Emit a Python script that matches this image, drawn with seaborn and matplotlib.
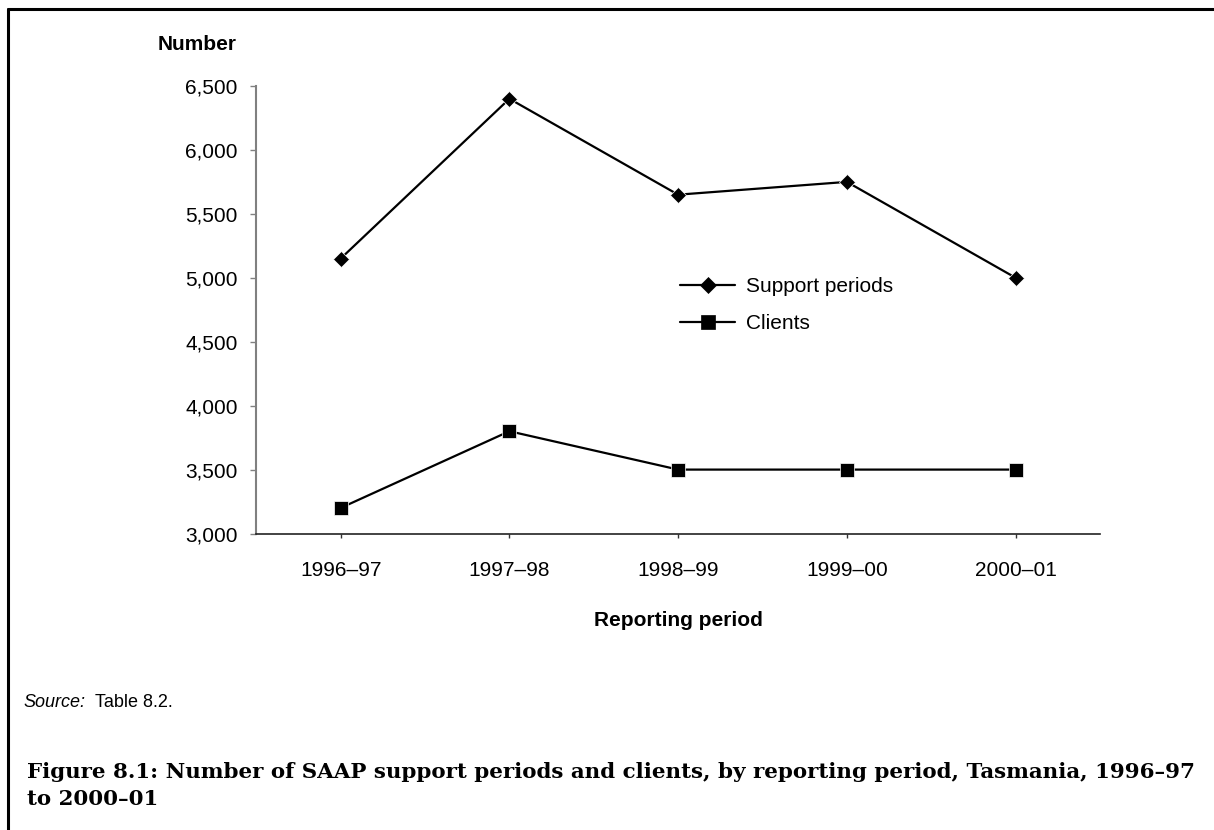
import pandas as pd
import matplotlib
matplotlib.use("Agg")
import matplotlib.pyplot as plt
from matplotlib.lines import Line2D
from matplotlib.ticker import FuncFormatter
import seaborn as sns

# Values
periods = ["1996–97", "1997–98", "1998–99", "1999–00", "2000–01"]
support_periods = [5150, 6400, 5650, 5750, 5000]
clients = [3200, 3800, 3500, 3500, 3500]

df = pd.DataFrame({
    "period": periods * 2,
    "value": support_periods + clients,
    "series": ["Support periods"] * len(periods) + ["Clients"] * len(periods),
})

sns.set_theme(style="white")
plt.rcParams["font.family"] = ["Liberation Sans", "DejaVu Sans"]
plt.rcParams["text.color"] = "black"
plt.rcParams["axes.labelcolor"] = "black"

fig = plt.figure(figsize=(12.14, 8.3), dpi=100)
ax = fig.add_axes([0.2111, 0.3572, 0.9061 - 0.2111, 0.8964 - 0.3572])

marker_sizes = {"Support periods": 8.6, "Clients": 10.0}

sns.lineplot(
    data=df, x="period", y="value", hue="series", style="series",
    palette={"Support periods": "black", "Clients": "black"},
    markers={"Support periods": "D", "Clients": "s"},
    dashes=False, sort=False, lw=1.6, ax=ax, legend=False,
)
for line, ms in zip(ax.lines, marker_sizes.values()):
    line.set_markersize(ms)
    line.set_markeredgewidth(0.5)

ax.set_xlim(-0.5, 4.5)
ax.set_ylim(3000, 6500)
ax.set_yticks(range(3000, 6501, 500))
ax.yaxis.set_major_formatter(FuncFormatter(lambda v, p: f"{int(v):,}"))

for s in ["top", "right"]:
    ax.spines[s].set_visible(False)
ax.spines["left"].set_color("#808080")
ax.spines["left"].set_linewidth(1.5)
ax.spines["bottom"].set_color("#222222")
ax.spines["bottom"].set_linewidth(1.2)

ax.tick_params(axis="y", direction="out", length=4.5, width=1, color="#808080",
               labelsize=15, pad=9, labelcolor="black", left=True)
ax.tick_params(axis="x", direction="out", length=3, width=1, color="#333333",
               labelsize=15, pad=17, labelcolor="black", bottom=True)

ax.set_xlabel("Reporting period", fontsize=15, fontweight="bold", labelpad=22)
ax.set_ylabel("")

handles = [
    Line2D([], [], color="black", lw=1.6, marker="D", markersize=marker_sizes["Support periods"],
           markeredgewidth=0.5),
    Line2D([], [], color="black", lw=1.6, marker="s", markersize=marker_sizes["Clients"],
           markeredgewidth=0.5),
]
ax.legend(handles, ["Support periods", "Clients"], loc="upper left",
          bbox_to_anchor=(680 / 1214, 1 - 277 / 830), bbox_transform=fig.transFigure,
          frameon=False, fontsize=15, handlelength=2.65, handletextpad=0.5,
          labelspacing=0.88, borderpad=0, borderaxespad=0)

fig.text(197.5 / 1214, 1 - 45 / 830, "Number", fontsize=15, fontweight="bold",
         ha="center", va="center")

fig.text(23 / 1214, 1 - 702 / 830, "Source:", fontsize=13, style="italic",
         ha="left", va="center")
fig.text(95 / 1214, 1 - 702 / 830, "Table 8.2.", fontsize=13,
         ha="left", va="center")

fig.text(27 / 1214, 1 - 772 / 830,
         "Figure 8.1: Number of SAAP support periods and clients, by reporting period, Tasmania, 1996–97",
         fontsize=15.4, fontweight="bold", family="DejaVu Serif", ha="left", va="center")
fig.text(27 / 1214, 1 - 799 / 830, "to 2000–01",
         fontsize=15.4, fontweight="bold", family="DejaVu Serif", ha="left", va="center")

# outer frame: left and top rules
fig.add_artist(Line2D([8 / 1214, 8 / 1214], [0, 1 - 9 / 830], color="black", lw=2.2,
                      transform=fig.transFigure))
fig.add_artist(Line2D([8 / 1214, 1], [1 - 9 / 830, 1 - 9 / 830], color="black", lw=2.2,
                      transform=fig.transFigure))

fig.savefig("out.png", dpi=100)
